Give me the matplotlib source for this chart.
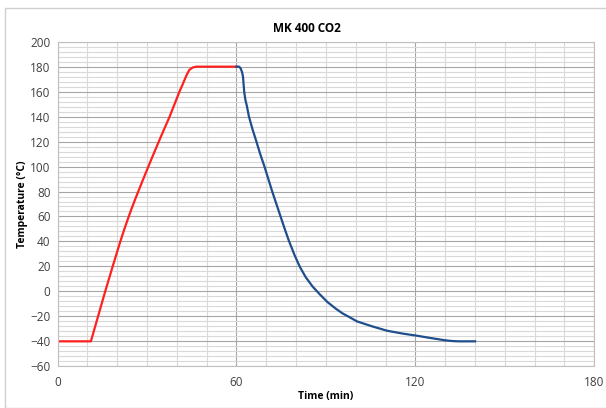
import numpy as np
import matplotlib
matplotlib.use("Agg")
import matplotlib.pyplot as plt
from matplotlib.patches import Rectangle
from matplotlib.ticker import MultipleLocator

# heating phase (red)
heat_t = [0, 11.2, 12.4, 13.6, 16.0, 18.5, 21.0, 22.3, 23.6, 24.8, 26.0, 28.5, 31.5,
          34.5, 37.6, 40.9, 42.0, 42.6, 43.4, 44.2, 45.3, 46.5, 60]
heat_T = [-40, -40, -30, -20, 0, 20, 39.5, 49, 58, 66, 73.5, 88.5, 106,
          123, 140, 160, 166, 169.4, 173.8, 177.4, 179.3, 180, 180]

# cooling phase (blue)
cool_t = [60, 60.9, 61.4, 61.9, 62.2, 62.4, 62.6, 63.0, 63.5, 64.2, 65.4, 66.7,
          68.0, 69.4, 72.0, 74.8, 76.2, 77.6, 79.5, 81.3, 83.2, 85.5, 87.8, 90.5,
          93.3, 95.5, 97.8, 100.4, 105.5, 110.5, 115.5, 120.5, 125.0, 129.5, 132.0,
          134.5, 140]
cool_T = [180, 180, 178.7, 175.5, 172, 166, 160, 153.5, 148.5, 140, 129.8, 120,
          109.8, 100, 80, 60, 50, 40.5, 29, 19.5, 11.5, 4.0, -2.0, -8.5,
          -13.8, -17.5, -20.5, -24, -28, -31.5, -33.7, -35.5, -37.3, -39, -39.7,
          -40, -40]

x_ticks = [0, 60, 120, 180]

plt.rcParams['font.family'] = ['Open Sans', 'DejaVu Sans']

fig = plt.figure(figsize=(6.06, 4.08), dpi=100)
fig.patches.append(Rectangle((5 / 606, 0), 1, 400 / 408, transform=fig.transFigure,
                             fill=False, edgecolor="#D0D0D0", linewidth=1))
ax = fig.add_axes([57.5 / 606, 1 - 366.3 / 408, (594.3 - 57.5) / 606, (366.3 - 41.7) / 408])

ax.set_xlim(0, 180)
ax.set_ylim(-60, 200)
ax.set_xticks(x_ticks)
ax.xaxis.set_minor_locator(MultipleLocator(10))
ax.yaxis.set_major_locator(MultipleLocator(20))
ax.yaxis.set_minor_locator(MultipleLocator(4))

ax.grid(which="major", color="#A6A6A6", linewidth=0.8)
ax.grid(which="minor", color="#D9D9D9", linewidth=0.8)
ax.set_axisbelow(True)
ax.tick_params(which="both", length=0, labelsize=8.5, colors="#404040")
ax.tick_params(axis="x", pad=7)
ax.tick_params(axis="y", pad=5)
for s in ax.spines.values():
    s.set_color("#BFBFBF")
    s.set_linewidth(0.8)

ax.plot(heat_t, heat_T, color="#FF2020", linewidth=1.6, solid_joinstyle="round")
ax.plot(cool_t, cool_T, color="#1F4E8C", linewidth=1.6, solid_joinstyle="round")

fig.text(326 / 606, 1 - 397 / 408, "Time (min)", fontsize=7.5, fontweight="bold",
         ha="center", va="center")
fig.text(22 / 606, 1 - 204 / 408, "Temperature (°C)", fontsize=7.5, fontweight="bold",
         ha="center", va="center", rotation=90)
fig.text(307 / 606, 1 - 28 / 408, "MK 400 CO2", fontsize=8.5, fontweight="bold",
         ha="center", va="center")

fig.savefig("out.png", dpi=100)
